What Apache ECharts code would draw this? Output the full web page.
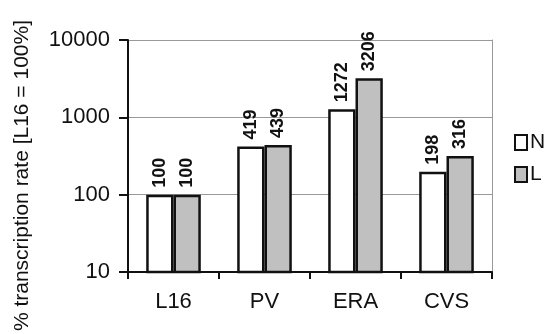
<!DOCTYPE html>
<html><head><meta charset="utf-8">
<script src="https://cdn.jsdelivr.net/npm/echarts@6/dist/echarts.min.js"></script>
<style>html,body{margin:0;padding:0;background:#fff}#c{width:556px;height:334px}</style>
</head><body><div id="c"></div>
<script>
var categories = ['L16', 'PV', 'ERA', 'CVS'];
var seriesN = [100, 419, 1272, 198];
var seriesL = [100, 439, 3206, 316];
var seriesNames = ['N', 'L'];
var yName = '% transcription rate [L16 = 100%]';
var font = 'Liberation Sans, Arial, sans-serif';

var chart = echarts.init(document.getElementById('c'));
var lbl = {
  show: true, position: 'top', rotate: 90, align: 'left', verticalAlign: 'middle',
  distance: 7, fontSize: 18, fontWeight: 'bold', color: '#111', fontFamily: font
};
chart.setOption({
  animation: false,
  backgroundColor: '#fff',
  grid: { left: 128, right: 64, top: 40, bottom: 62 },
  legend: {
    orient: 'vertical', left: 509, top: 127, itemWidth: 12, itemHeight: 15, itemGap: 11,
    icon: 'rect', data: seriesNames,
    textStyle: { fontSize: 21, color: '#111', fontFamily: font, padding: [0,0,0,-2] }
  },
  graphic: [{
    type: 'text', left: 12, top: 20, rotation: Math.PI / 2,
    style: { text: yName, fontSize: 21, fill: '#111', fontFamily: font }
  }],
  xAxis: {
    type: 'category', data: categories,
    axisLine: { lineStyle: { color: '#111', width: 2 } },
    axisTick: { show: true, length: 7, lineStyle: { color: '#111', width: 2 } },
    axisLabel: { fontSize: 22, color: '#111', margin: 19, fontFamily: font }
  },
  yAxis: [{
    type: 'log', logBase: 10, min: 10, max: 10000,
    axisLine: { show: true, lineStyle: { color: '#111', width: 2 } },
    axisTick: { show: true, length: 9, lineStyle: { color: '#111', width: 2 } },
    axisLabel: { fontSize: 22, color: '#111', margin: 18, fontFamily: font,
      formatter: function (v) { return String(v); } },
    splitLine: { show: true, lineStyle: { color: '#999', width: 1 } },
    minorTick: { show: false }
  }, {
    type: 'log', logBase: 10, min: 10, max: 10000, position: 'right',
    axisLine: { show: true, lineStyle: { color: '#999', width: 1 } },
    axisTick: { show: false }, axisLabel: { show: false }, splitLine: { show: false }
  }],
  series: [{
    name: seriesNames[0], type: 'bar', data: seriesN, barGap: '0%', barCategoryGap: '40%',
    itemStyle: { color: '#ffffff', borderColor: '#111', borderWidth: 2.5 },
    label: lbl
  }, {
    name: seriesNames[1], type: 'bar', data: seriesL, barGap: '0%', barCategoryGap: '40%',
    itemStyle: { color: '#c0c0c0', borderColor: '#111', borderWidth: 2.5 },
    label: lbl
  }]
});
</script></body></html>
